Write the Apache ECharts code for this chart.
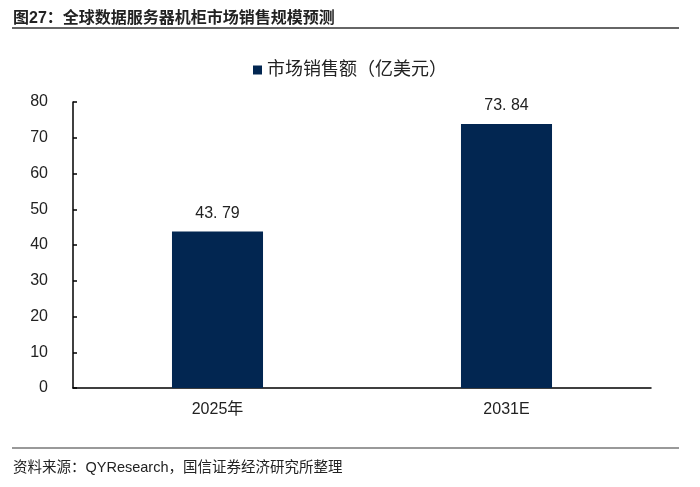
<!DOCTYPE html>
<html>
<head>
<meta charset="utf-8">
<script src="https://cdn.jsdelivr.net/npm/echarts@6/dist/echarts.min.js"></script>
<style>
  html, body { margin: 0; padding: 0; background: #fff; }
  #chart { width: 700px; height: 487px; }
</style>
</head>
<body>
<div id="chart"></div>
<script>
// 数据
const categories = ['2025年', '2031E'];
const salesValues = [43.79, 73.84];
const seriesName = '市场销售额（亿美元）';
const yTicks = { min: 0, max: 80, interval: 10 };

const FONT = '"Liberation Sans", "Noto Sans CJK SC", Arial, sans-serif';
const BAR_COLOR = '#022651';

const chart = echarts.init(document.getElementById('chart'));

const option = {
  backgroundColor: '#fff',
  animation: false,
  textStyle: { fontFamily: FONT },
  title: [
    { // 图标题
      text: '图27：全球数据服务器机柜市场销售规模预测',
      left: 8, top: 6,
      textStyle: { fontSize: 16, fontWeight: 'bold', color: '#222', fontFamily: FONT }
    },
    { // 资料来源
      text: '资料来源：QYResearch，国信证券经济研究所整理',
      left: 8, top: 456,
      textStyle: { fontSize: 14.5, fontWeight: 'normal', color: '#222', fontFamily: FONT }
    }
  ],
  graphic: [
    { type: 'line', shape: { x1: 12, y1: 28, x2: 679, y2: 28 }, style: { stroke: '#333', lineWidth: 1.5 } },
    { type: 'line', shape: { x1: 12, y1: 448, x2: 679, y2: 448 }, style: { stroke: '#777', lineWidth: 1.5 } }
  ],
  legend: {
    data: [seriesName],
    top: 56, left: 'center',
    icon: 'rect', itemWidth: 9, itemHeight: 9, itemGap: 5,
    textStyle: { fontSize: 18, color: '#222', fontFamily: FONT }
  },
  grid: { left: 73, right: 49, top: 102, bottom: 99, containLabel: false },
  xAxis: {
    type: 'category',
    data: categories,
    axisLine: { lineStyle: { color: '#000', width: 1.5 } },
    axisTick: { show: false },
    axisLabel: { fontSize: 16, color: '#222', margin: 14, fontFamily: FONT }
  },
  yAxis: {
    type: 'value',
    min: yTicks.min, max: yTicks.max, interval: yTicks.interval,
    axisLine: { show: true, lineStyle: { color: '#000', width: 1.5 } },
    axisTick: { show: true, inside: true, length: 4, lineStyle: { color: '#000', width: 1.5 } },
    splitLine: { show: false },
    axisLabel: { fontSize: 16, color: '#222', margin: 25, fontFamily: FONT }
  },
  series: [{
    name: seriesName,
    type: 'bar',
    data: salesValues,
    barWidth: '31.5%',
    itemStyle: { color: BAR_COLOR },
    label: {
      show: true, position: 'top', distance: 10,
      fontSize: 16, color: '#222', fontFamily: FONT,
      formatter: p => p.value.toFixed(2).replace('.', '. ')
    }
  }]
};

chart.setOption(option);
</script>
</body>
</html>
